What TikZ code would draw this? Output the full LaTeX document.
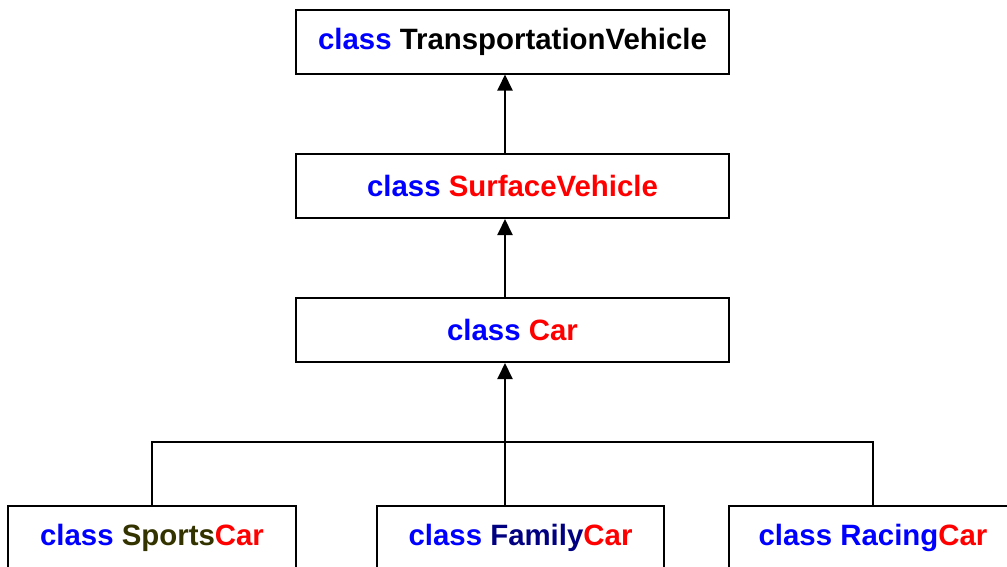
\documentclass[tikz,border=0pt]{standalone}
\usepackage{fontspec}
\setmainfont{Liberation Sans}
\usetikzlibrary{arrows.meta}
\definecolor{kwblue}{RGB}{0,0,255}
\definecolor{kwred}{RGB}{255,0,0}
\definecolor{olive}{RGB}{51,51,0}
\definecolor{navy}{RGB}{0,0,128}
\tikzset{
  classbox/.style={draw=black, line width=2pt, rectangle, minimum height=64pt,
    inner sep=0pt, font=\fontsize{29.4}{32}\selectfont\bfseries, fill=white},
  inherit/.style={line width=2pt, -{Triangle[length=16pt,width=15pt]}},
  link/.style={line width=2pt}
}
\newcommand{\kw}{\textcolor{kwblue}{class}}
\begin{document}
\begin{tikzpicture}[x=1pt,y=-1pt]
  \useasboundingbox (0,0) rectangle (1007,566);
  % inheritance spine
  \coordinate (spine) at (505,0);
  % class boxes
  \node[classbox, minimum width=433pt] (tv) at (512.5,41.5) {\kw\ TransportationVehicle};
  \node[classbox, minimum width=433pt] (sv) at (512.5,186) {\kw\ \textcolor{kwred}{SurfaceVehicle}};
  \node[classbox, minimum width=433pt] (car) at (512.5,330) {\kw\ \textcolor{kwred}{Car}};
  \node[classbox, minimum width=288pt] (sports) at (152,538) {\kw\ \textcolor{olive}{Sports}\textcolor{kwred}{Car}};
  \node[classbox, minimum width=287pt] (family) at (520.5,538) {\kw\ \textcolor{navy}{Family}\textcolor{kwred}{Car}};
  \node[classbox, minimum width=288pt] (racing) at (873,538) {\kw\ \textcolor{kwblue}{Racing}\textcolor{kwred}{Car}};
  % branch bar
  \coordinate (bar) at (0,442);
  % connectors
  \draw[inherit] (sv.north -| spine) -- (tv.south -| spine);
  \draw[inherit] (car.north -| spine) -- (sv.south -| spine);
  \draw[inherit] (family.north -| spine) -- (car.south -| spine);
  \draw[link] (sports.north) -- (sports.north |- bar) -- (racing.north |- bar) -- (racing.north);
\end{tikzpicture}
\end{document}
